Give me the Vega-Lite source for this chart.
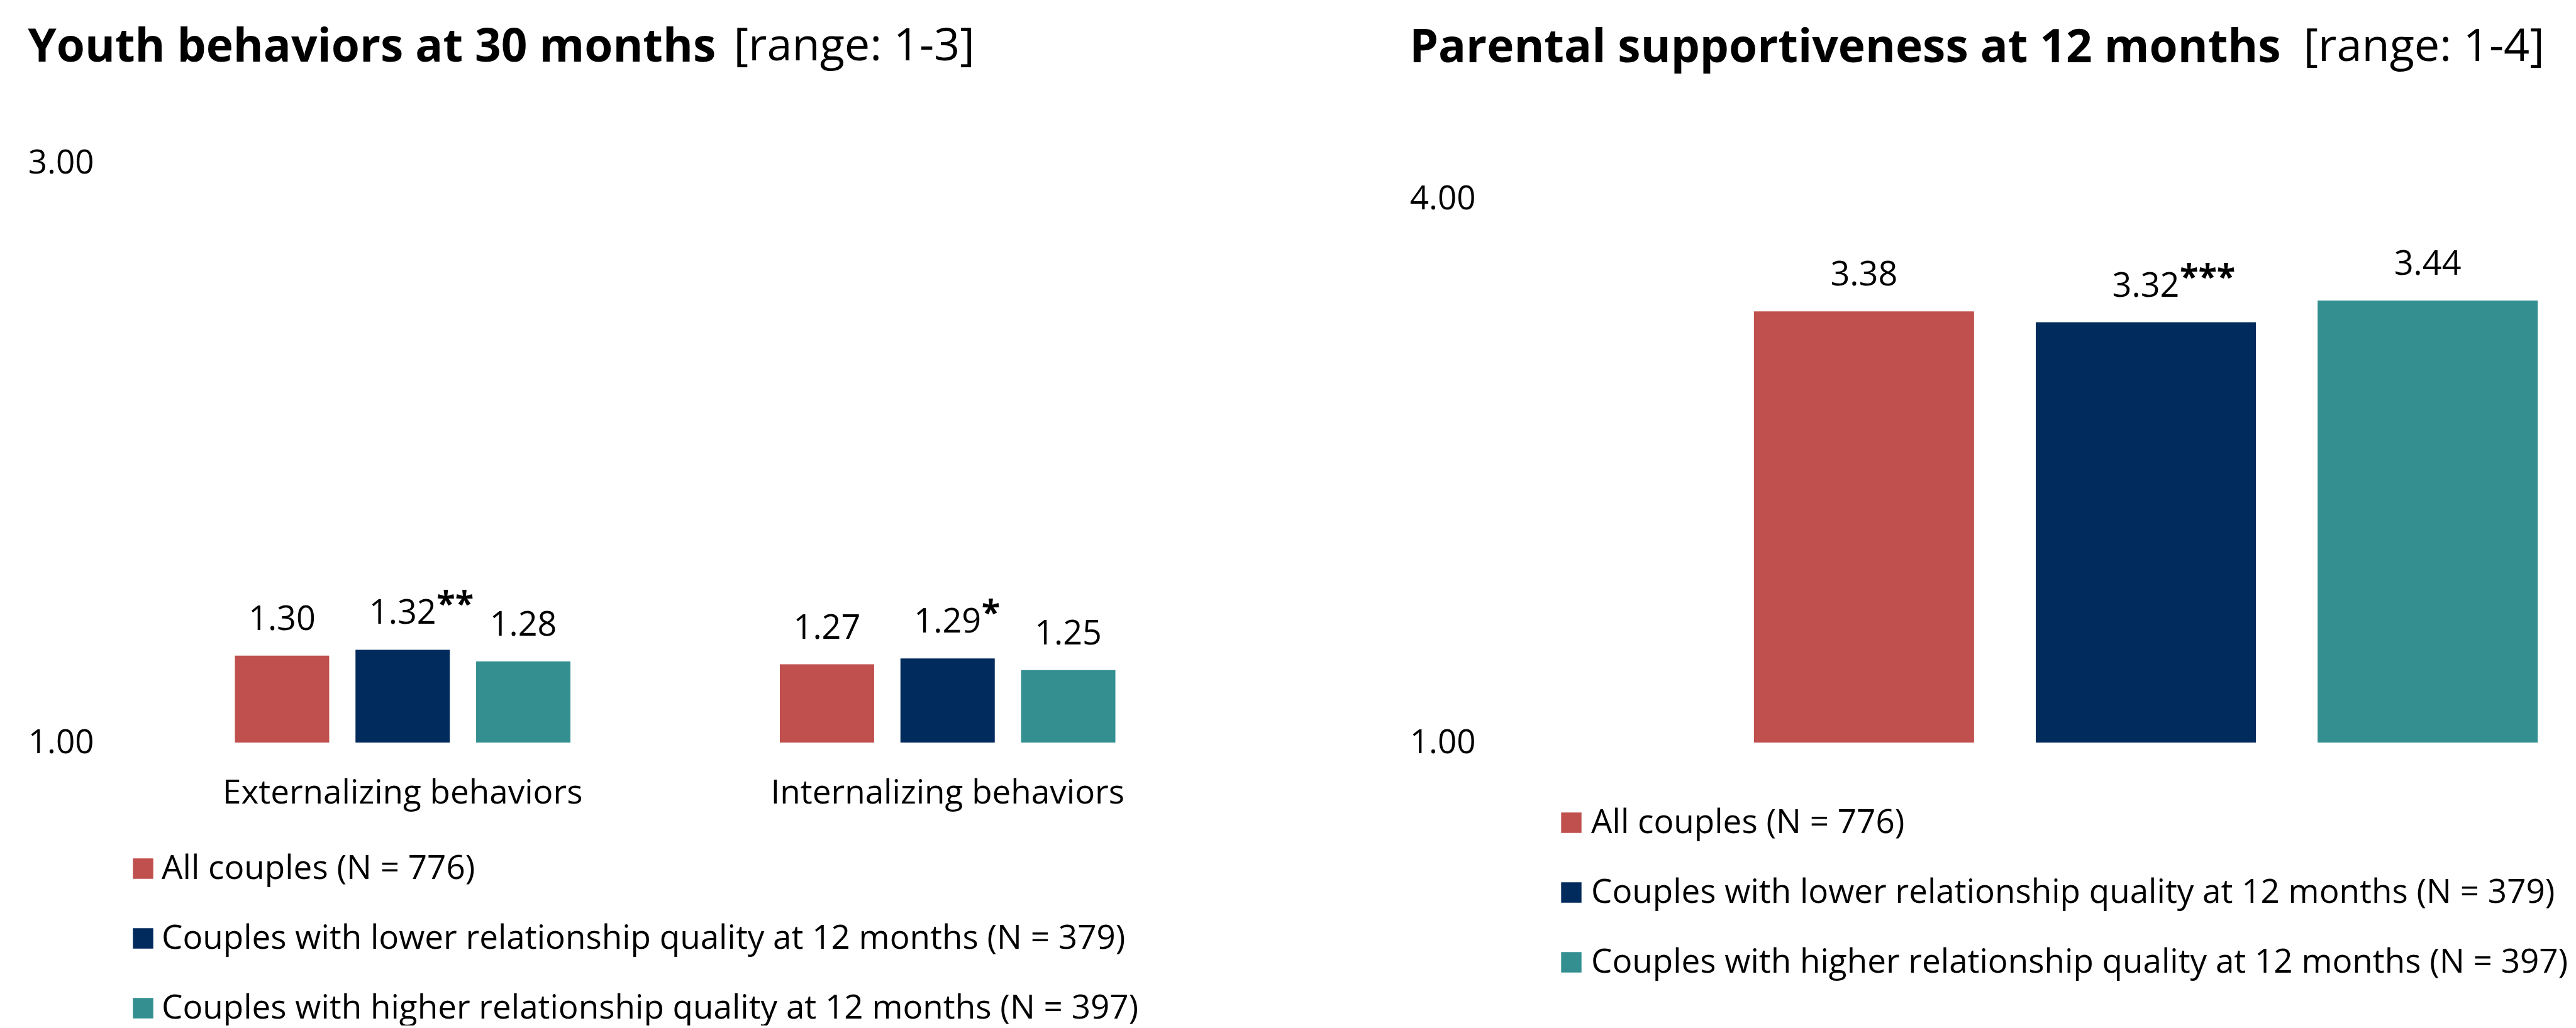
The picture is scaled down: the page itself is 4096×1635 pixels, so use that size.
{
  "$schema": "https://vega.github.io/schema/vega-lite/v6.json",
  "background": "white",
  "padding": {"left": 44, "top": 37, "right": 0, "bottom": 0},
  "config": {
    "font": "Open Sans",
    "view": {"stroke": null},
    "axis": {"labelFont": "Open Sans", "labelColor": "black", "domain": false, "ticks": false, "grid": false},
    "concat": {"spacing": 301}
  },
  "resolve": {"scale": {"color": "independent", "y": "independent", "x": "independent"}, "legend": {"color": "independent"}},
  "hconcat": [
    {
      "width": 1733,
      "height": 922,
      "title": {"text": "Youth behaviors at 30 months", "anchor": "start", "font": "Open Sans", "fontSize": 73, "fontWeight": "bold", "color": "black", "offset": 0, "dy": 76},
      "data": {"values": [
        {"behavior": "Externalizing behaviors", "group": "All couples (N = 776)", "value": 1.30, "sig": ""},
        {"behavior": "Externalizing behaviors", "group": "Couples with lower relationship quality at 12 months (N = 379)", "value": 1.32, "sig": "**"},
        {"behavior": "Externalizing behaviors", "group": "Couples with higher relationship quality at 12 months (N = 397)", "value": 1.28, "sig": ""},
        {"behavior": "Internalizing behaviors", "group": "All couples (N = 776)", "value": 1.27, "sig": ""},
        {"behavior": "Internalizing behaviors", "group": "Couples with lower relationship quality at 12 months (N = 379)", "value": 1.29, "sig": "*"},
        {"behavior": "Internalizing behaviors", "group": "Couples with higher relationship quality at 12 months (N = 397)", "value": 1.25, "sig": ""}
      ]},
      "encoding": {
        "x": {"field": "behavior", "type": "nominal",
              "scale": {"domain": ["Externalizing behaviors", "Internalizing behaviors"], "paddingInner": 0, "paddingOuter": 0},
              "axis": {"title": null, "labelAngle": 0, "labelFontSize": 53, "labelPadding": 54, "labelBaseline": "top", "labelLimit": 1200}},
        "xOffset": {"field": "group", "type": "nominal",
              "scale": {"domain": ["All couples (N = 776)", "Couples with lower relationship quality at 12 months (N = 379)", "Couples with higher relationship quality at 12 months (N = 397)"], "paddingInner": 0.218, "paddingOuter": 0.868}}
      },
      "layer": [
        {
          "mark": {"type": "bar"},
          "encoding": {
            "y": {"field": "value", "type": "quantitative",
                  "scale": {"domain": [1, 3], "zero": false, "nice": false},
                  "axis": {"values": [1, 3], "format": ".2f", "labelFontSize": 53, "labelPadding": 58,
                           "title": "[range: 1-3]", "titleAngle": 0, "titleX": 959, "titleY": -164, "titleAlign": "left", "titleBaseline": "alphabetic",
                           "titleFont": "Open Sans", "titleFontSize": 72, "titleFontWeight": "normal", "titleColor": "black"}},
            "y2": {"datum": 1},
            "color": {"field": "group", "type": "nominal",
                      "scale": {"domain": ["All couples (N = 776)", "Couples with lower relationship quality at 12 months (N = 379)", "Couples with higher relationship quality at 12 months (N = 397)"],
                                "range": ["#C0504D", "#002B5C", "#338F90"]},
                      "legend": {"orient": "none", "legendX": -6, "legendY": 1096, "title": null, "direction": "vertical",
                                 "symbolType": "square", "symbolSize": 1050, "symbolStrokeWidth": 0, "symbolOpacity": 1,
                                 "labelFont": "Open Sans", "labelFontSize": 53, "labelColor": "black", "labelOffset": 3,
                                 "rowPadding": 57, "padding": 0, "labelLimit": 3000}}
          }
        },
        {
          "mark": {"type": "text", "baseline": "alphabetic", "dy": -41, "fontSize": 54, "font": "Open Sans", "color": "black"},
          "encoding": {
            "y": {"field": "value", "type": "quantitative"},
            "text": {"field": "value", "type": "quantitative", "format": ".2f"}
          }
        },
        {
          "mark": {"type": "text", "baseline": "alphabetic", "align": "left", "dx": 54, "dy": -54, "fontSize": 54, "fontWeight": "bold", "font": "Open Sans", "color": "black"},
          "encoding": {
            "y": {"field": "value", "type": "quantitative"},
            "text": {"field": "sig", "type": "nominal"}
          }
        }
      ]
    },
    {
      "width": 1672,
      "height": 922,
      "title": {"text": "Parental supportiveness at 12 months", "anchor": "start", "font": "Open Sans", "fontSize": 73, "fontWeight": "bold", "color": "black", "offset": 0, "dy": 76},
      "data": {"values": [
        {"group": "All couples (N = 776)", "value": 3.38, "sig": ""},
        {"group": "Couples with lower relationship quality at 12 months (N = 379)", "value": 3.32, "sig": "***"},
        {"group": "Couples with higher relationship quality at 12 months (N = 397)", "value": 3.44, "sig": ""}
      ]},
      "encoding": {
        "x": {"field": "group", "type": "nominal",
              "scale": {"domain": ["All couples (N = 776)", "Couples with lower relationship quality at 12 months (N = 379)", "Couples with higher relationship quality at 12 months (N = 397)"], "paddingInner": 0.219, "paddingOuter": 0.475, "align": 0.904},
              "axis": null}
      },
      "layer": [
        {
          "mark": {"type": "bar"},
          "encoding": {
            "y": {"field": "value", "type": "quantitative",
                  "scale": {"domain": [1, 4.2], "zero": false, "nice": false},
                  "axis": {"values": [1, 4], "format": ".2f", "labelFontSize": 53, "labelPadding": 58,
                           "title": "[range: 1-4]", "titleAngle": 0, "titleX": 1258, "titleY": -163, "titleAlign": "left", "titleBaseline": "alphabetic",
                           "titleFont": "Open Sans", "titleFontSize": 72, "titleFontWeight": "normal", "titleColor": "black"}},
            "y2": {"datum": 1},
            "color": {"field": "group", "type": "nominal",
                      "scale": {"domain": ["All couples (N = 776)", "Couples with lower relationship quality at 12 months (N = 379)", "Couples with higher relationship quality at 12 months (N = 397)"],
                                "range": ["#C0504D", "#002B5C", "#338F90"]},
                      "legend": {"orient": "none", "legendX": 68, "legendY": 1023, "title": null, "direction": "vertical",
                                 "symbolType": "square", "symbolSize": 1050, "symbolStrokeWidth": 0, "symbolOpacity": 1,
                                 "labelFont": "Open Sans", "labelFontSize": 53, "labelColor": "black", "labelOffset": 5,
                                 "rowPadding": 57, "padding": 0, "labelLimit": 3000}}
          }
        },
        {
          "mark": {"type": "text", "baseline": "alphabetic", "dy": -41, "fontSize": 54, "font": "Open Sans", "color": "black"},
          "encoding": {
            "y": {"field": "value", "type": "quantitative"},
            "text": {"field": "value", "type": "quantitative", "format": ".2f"}
          }
        },
        {
          "mark": {"type": "text", "baseline": "alphabetic", "align": "left", "dx": 54, "dy": -54, "fontSize": 54, "fontWeight": "bold", "font": "Open Sans", "color": "black"},
          "encoding": {
            "y": {"field": "value", "type": "quantitative"},
            "text": {"field": "sig", "type": "nominal"}
          }
        }
      ]
    }
  ]
}
